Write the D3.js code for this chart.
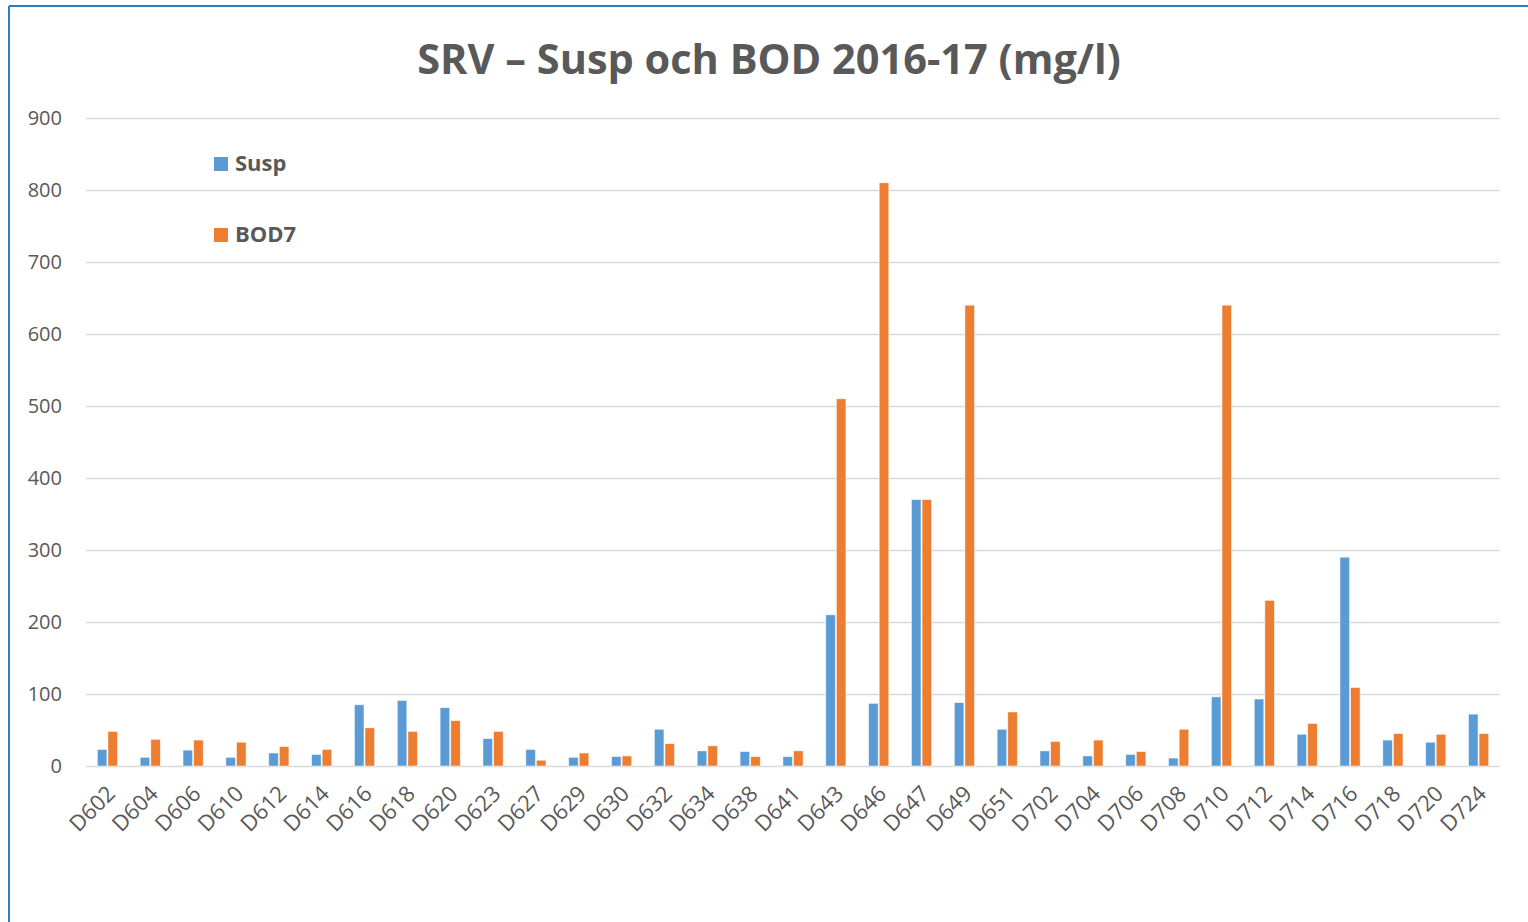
<!DOCTYPE html>
<html>
<head>
<meta charset="utf-8">
<script src="https://cdn.jsdelivr.net/npm/d3@7"></script>
<style>
  html, body { margin: 0; padding: 0; background: #fff; }
  svg { display: block; }
</style>
</head>
<body>
<div id="chart"></div>
<script>
// ---- Data ----
const categories = ['D602','D604','D606','D610','D612','D614','D616','D618','D620','D623','D627','D629','D630','D632','D634','D638','D641','D643','D646','D647','D649','D651','D702','D704','D706','D708','D710','D712','D714','D716','D718','D720','D724'];
const susp = [23,12,22,12,18,16,85,91,81,38,23,12,13,51,21,20,13,210,87,370,88,51,21,14,16,11,96,93,44,290,36,33,72];
const bod7 = [48,37,36,33,27,23,53,48,63,48,8,18,14,31,28,13,21,510,810,370,640,75,34,36,20,51,640,230,59,109,45,44,45];
const seriesNames = ['Susp', 'BOD7'];
const seriesColors = ['#5b9bd5', '#ed7d31'];
const yTicks = [0,100,200,300,400,500,600,700,800,900];

const W = 1528, H = 922;
const margin = { top: 118, right: 28, bottom: 156, left: 86 };
const innerW = W - margin.left - margin.right;
const innerH = H - margin.top - margin.bottom;
const textColor = '#595959';
const font = 'Open Sans, Noto Sans, sans-serif';

const svg = d3.select('#chart').append('svg')
  .attr('width', W)
  .attr('height', H);

// ---- Frame (only top and left edges visible) ----
svg.append('line').attr('x1', 9).attr('x2', W).attr('y1', 6).attr('y2', 6)
  .attr('stroke', '#2e7dc0').attr('stroke-width', 2);
svg.append('line').attr('x1', 9).attr('x2', 9).attr('y1', 6).attr('y2', H)
  .attr('stroke', '#2e7dc0').attr('stroke-width', 2);

// ---- Title ----
svg.append('text')
  .attr('x', 769)
  .attr('y', 74)
  .attr('text-anchor', 'middle')
  .style('font-family', font)
  .style('font-weight', '700')
  .style('font-size', '41.5px')
  .style('fill', textColor)
  .text('SRV – Susp och BOD 2016-17 (mg/l)');

const g = svg.append('g')
  .attr('transform', `translate(${margin.left},${margin.top})`);

// ---- Scales ----
const x = d3.scaleBand().domain(categories).range([0, innerW]).padding(0);
const y = d3.scaleLinear().domain([0, 900]).range([innerH, 0]);
const xs = d3.scaleBand().domain(seriesNames)
  .range([x.bandwidth() * 0.24, x.bandwidth() * 0.76]).padding(0.1);

// ---- Grid ----
g.append('g')
  .call(d3.axisLeft(y).tickValues(yTicks).tickSize(-innerW).tickFormat(''))
  .call(s => s.select('.domain').remove())
  .call(s => s.selectAll('line').attr('stroke', '#d9d9d9').attr('stroke-width', 1.5));

// ---- Y axis labels ----
g.append('g')
  .call(d3.axisLeft(y).tickValues(yTicks).tickSize(0).tickPadding(24))
  .call(s => s.select('.domain').remove())
  .call(s => s.selectAll('text')
    .style('font-family', font)
    .style('font-size', '20px')
    .style('fill', textColor));

// ---- Bars ----
const groups = g.append('g').selectAll('g')
  .data(categories)
  .enter().append('g')
  .attr('transform', d => `translate(${x(d)},0)`);

groups.selectAll('rect')
  .data((d, i) => [susp[i], bod7[i]].map((v, j) => ({ key: seriesNames[j], v, c: seriesColors[j] })))
  .enter().append('rect')
  .attr('x', d => xs(d.key))
  .attr('width', xs.bandwidth())
  .attr('y', d => y(d.v))
  .attr('height', d => innerH - y(d.v))
  .attr('fill', d => d.c)
  .attr('stroke', '#ffffff')
  .attr('stroke-opacity', 0.6)
  .attr('stroke-width', 0.8);

// ---- X axis labels ----
g.append('g')
  .attr('transform', `translate(0,${innerH})`)
  .call(d3.axisBottom(x).tickSize(0).tickPadding(0))
  .call(s => s.select('.domain').remove())
  .call(s => s.selectAll('text')
    .attr('text-anchor', 'end')
    .attr('dy', '0')
    .attr('transform', 'translate(9,29) rotate(-45)')
    .style('font-family', font)
    .style('font-size', '22px')
    .style('fill', textColor));

// ---- Legend ----
const legend = svg.append('g');
seriesNames.forEach((name, i) => {
  const ly = 157 + i * 71;
  legend.append('rect')
    .attr('x', 214).attr('y', ly).attr('width', 14).attr('height', 14)
    .attr('fill', seriesColors[i]);
  legend.append('text')
    .attr('x', 235).attr('y', ly + 14)
    .style('font-family', font)
    .style('font-weight', '700')
    .style('font-size', '22px')
    .style('fill', textColor)
    .text(name);
});
</script>
</body>
</html>
